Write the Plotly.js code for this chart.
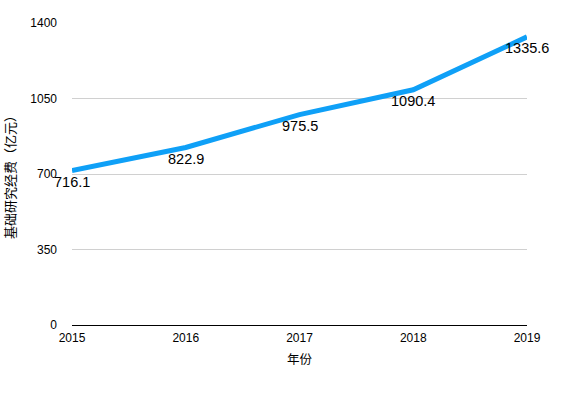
<!DOCTYPE html>
<html><head><meta charset="utf-8">
<script src="https://cdn.plot.ly/plotly-3.0.1.min.js"></script>
<style>html,body{margin:0;padding:0;background:#fff}#c{width:581px;height:395px}</style>
</head><body><div id="c"></div>
<script>
const years = [2015, 2016, 2017, 2018, 2019];
const funding = [716.1, 822.9, 975.5, 1090.4, 1335.6];
const yTicks = [0, 350, 700, 1050, 1400];
const xTitle = '年份';
const yTitle = '基础研究经费（亿元）';

const fontFam = '"Liberation Sans", Arial, "Noto Sans CJK SC", sans-serif';
const cjkFam = '"Noto Sans CJK SC", sans-serif';
Plotly.newPlot('c', [{
  x: years, y: funding, type: 'scatter', mode: 'lines',
  line: {color: '#0fa0f7', width: 5},
  cliponaxis: false, hoverinfo: 'none'
}], {
  width: 581, height: 395,
  margin: {l: 72, r: 54, t: 23, b: 70},
  paper_bgcolor: '#fff', plot_bgcolor: '#fff',
  showlegend: false,
  font: {family: fontFam, color: '#000', size: 12},
  annotations: years.map((yr, i) => ({
    x: yr, y: funding[i], xref: 'x', yref: 'y',
    text: funding[i].toFixed(1), showarrow: false,
    xanchor: 'center', yanchor: 'top', yshift: -1.5,
    font: {size: 14.5, color: '#000', family: fontFam}
  })),
  xaxis: {
    range: [2015, 2019], tickvals: years, ticktext: years.map(String),
    showgrid: false, zeroline: false, showline: false,
    ticks: '', ticklabelstandoff: 4,
    tickfont: {size: 12},
    title: {text: xTitle, font: {size: 12.5, family: cjkFam}, standoff: 11}
  },
  yaxis: {
    range: [0, 1400], tickvals: yTicks, ticktext: yTicks.map(String),
    showgrid: true, gridcolor: '#d0d0d0', gridwidth: 1,
    zeroline: true, zerolinecolor: '#000', zerolinewidth: 1,
    showline: false, ticks: '', ticklabelstandoff: 14,
    tickfont: {size: 12},
    title: {text: yTitle, font: {size: 13, family: cjkFam}, standoff: 12}
  }
}, {staticPlot: true});
</script></body></html>
